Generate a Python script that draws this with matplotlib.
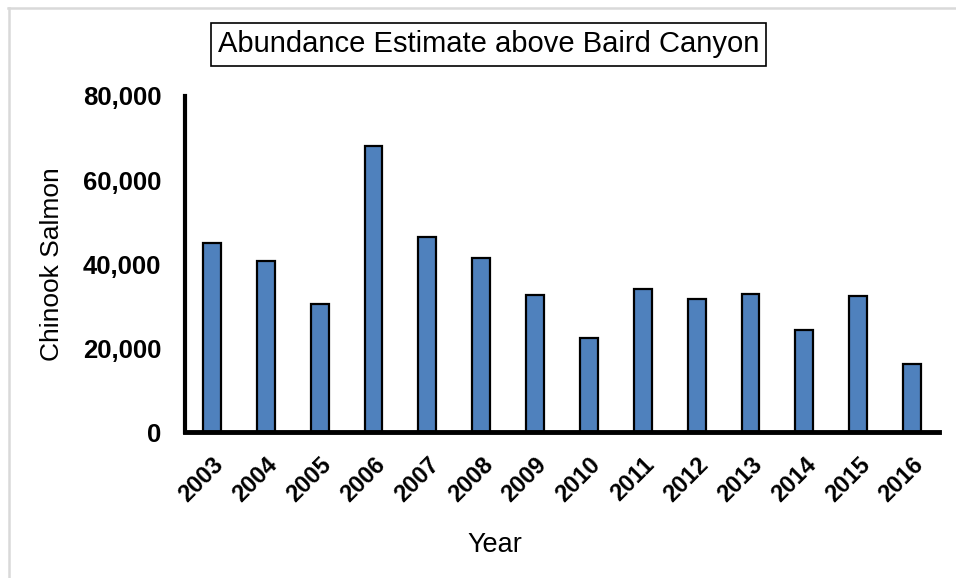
import matplotlib
matplotlib.use("Agg")
import matplotlib.pyplot as plt
from matplotlib.lines import Line2D
from matplotlib.ticker import FuncFormatter

plt.rcParams['font.family'] = ['Liberation Sans', 'DejaVu Sans']

years = ['2003', '2004', '2005', '2006', '2007', '2008', '2009',
         '2010', '2011', '2012', '2013', '2014', '2015', '2016']
abundance = [44900, 40800, 30500, 68200, 46500, 41500, 32600,
             22400, 34000, 31600, 32800, 24300, 32500, 16100]
y_ticks = [0, 20000, 40000, 60000, 80000]

fig = plt.figure(figsize=(9.56, 5.78), dpi=100)
ax = fig.add_axes([185 / 956, 1 - 432 / 578, (939 - 185) / 956, (432 - 96) / 578])

x = range(len(years))
ax.bar(x, abundance, width=0.33, color='#4F81BD', edgecolor='black', linewidth=1.6, zorder=2)

ax.set_xlim(-0.5, len(years) - 0.5)
ax.set_ylim(0, 80000)
ax.set_yticks(y_ticks)
ax.yaxis.set_major_formatter(FuncFormatter(lambda v, p: f"{int(v):,}"))
ax.set_xticks(list(x))
ax.set_xticklabels(years, rotation=45, ha='right', va='top', rotation_mode='anchor',
                   fontsize=17, fontweight='bold')
for lab in ax.get_yticklabels():
    lab.set_fontsize(18.5)
    lab.set_fontweight('bold')
ax.tick_params(axis='y', length=0, pad=17)
ax.tick_params(axis='x', length=0, pad=15)

for s in ['top', 'right']:
    ax.spines[s].set_visible(False)
ax.spines['left'].set_linewidth(3)
ax.spines['bottom'].set_linewidth(3.5)

ax.set_ylabel('Chinook Salmon', fontsize=19)
ax.yaxis.set_label_coords((64 - 185) / 754, 0.5)
ax.set_xlabel('Year', fontsize=19.5)
ax.xaxis.set_label_coords((495 - 185) / 754, -(532 - 432) / 336)

fig.text(488.5 / 956, 1 - 44.5 / 578, 'Abundance Estimate above Baird Canyon',
         ha='center', va='center', fontsize=21,
         bbox=dict(boxstyle='square,pad=0.25', facecolor='white', edgecolor='black', linewidth=1.2))

# light outer frame lines
fig.add_artist(Line2D([8 / 956, 1], [1 - 7.5 / 578, 1 - 7.5 / 578], color='#d9d9d9', linewidth=1.8))
fig.add_artist(Line2D([8.5 / 956, 8.5 / 956], [0, 1 - 7.5 / 578], color='#d9d9d9', linewidth=1.8))

fig.savefig('out.png', dpi=100)
